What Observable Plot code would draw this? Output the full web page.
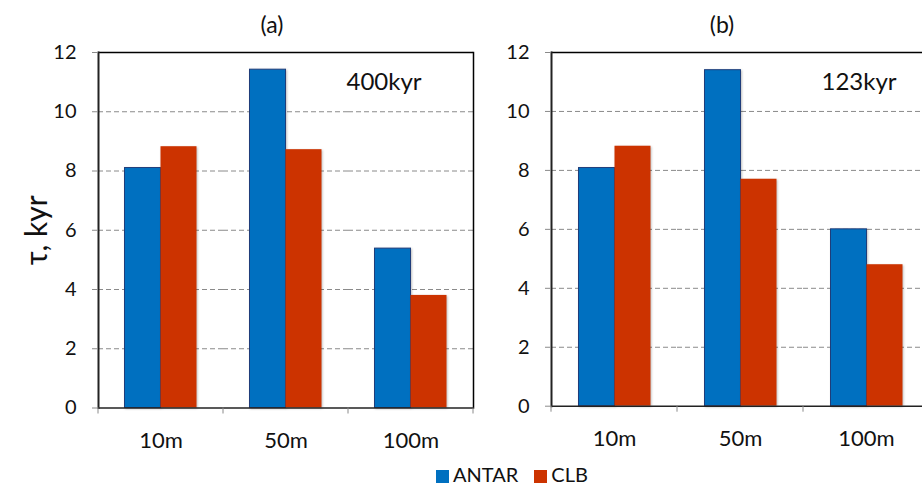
<!DOCTYPE html>
<html><head><meta charset="utf-8">
<script src="https://cdn.jsdelivr.net/npm/d3@7"></script>
<script src="https://cdn.jsdelivr.net/npm/@observablehq/plot@0.6"></script>
<style>
body{margin:0;background:#fff;font-family:Lato,"Open Sans",sans-serif;color:#111;}
#wrap{position:relative;width:922px;height:485px;overflow:hidden;background:#fff;}
.panel{position:absolute;top:0;}
.lbl{position:absolute;transform:translate(-50%,-50%);white-space:nowrap;}
.title{font-size:23px;}
.note{font-size:24px;}
#legend{position:absolute;left:436px;top:463px;display:flex;justify-content:flex-start;gap:16px;font-size:20px;line-height:22px;white-space:nowrap;}
#legend span.sw{display:inline-block;width:13px;height:13px;margin-right:4px;vertical-align:-1px;}
g[aria-label="bar"] rect{filter:drop-shadow(1.5px 1.5px 1px rgba(0,0,0,0.25));}
</style>
</head><body>
<div id="wrap"></div>
<script>
const categories = ["10m", "50m", "100m"];
const series = ["ANTAR", "CLB"];
const colors = ["#0070C0", "#CC3300"];
const antarA = [8.1, 11.42, 5.38];
const clbA = [8.82, 8.72, 3.8];
const antarB = [8.08, 11.4, 6.0];
const clbB = [8.82, 7.7, 4.8];
const yTicks = [0, 2, 4, 6, 8, 10, 12];
const panelTitles = ["(a)", "(b)"];
const notes = ["400kyr", "123kyr"];
const yLabel = "τ, kyr";

const wrap = document.getElementById("wrap");

function makePanel(antar, clb, cfg) {
  const rows = categories.flatMap((c, i) => [
    {cat: c, series: series[0], v: antar[i]},
    {cat: c, series: series[1], v: clb[i]}
  ]);
  const marks = [
    Plot.gridY(yTicks.slice(1, -1), {stroke: "#8a8a8a", strokeOpacity: 1, strokeDasharray: "5,3", strokeWidth: 1}),
    Plot.barY(rows.filter(d => d.series === series[0]), {fx: "cat", x: "series", y: "v", fill: "series", stroke: "#1F3D7A", strokeWidth: 1}),
    Plot.barY(rows.filter(d => d.series === series[1]), {fx: "cat", x: "series", y: "v", fill: "series"}),
    Plot.ruleY([0], {stroke: "#222", strokeWidth: 1.5}),
    Plot.ruleY([12], {stroke: "#000", strokeWidth: 1.5}),
    Plot.frame({anchor: "left", facetAnchor: "left", stroke: "#222", strokeWidth: 2}),
    Plot.axisY(yTicks, {tickSize: 6, tickPadding: 16, stroke: "#8a8a8a", fill: "#111", fontSize: 20, label: null}),
    Plot.axisFx({anchor: "bottom", tickSize: 0, tickPadding: 24, label: null, fill: "#111", fontSize: 22})
  ];
  if (cfg.rightFrame) marks.push(Plot.frame({anchor: "right", facetAnchor: "right", stroke: "#000", strokeWidth: 1.5}));
  if (cfg.yLabel) marks.push(Plot.axisY({ticks: [], tickSize: 0, label: cfg.yLabel, labelAnchor: "center", labelArrow: "none", labelOffset: 73, fontSize: 30, fill: "#111"}));
  const plot = Plot.plot({
    width: cfg.width, height: 460,
    marginLeft: cfg.marginLeft, marginRight: cfg.marginRight,
    marginTop: 52, marginBottom: cfg.marginBottom,
    style: {fontFamily: "Lato, 'Open Sans', sans-serif", fontSize: "20px", background: "transparent", overflow: "visible"},
    fx: {domain: categories, padding: 0, label: null},
    x: {domain: series, paddingInner: 0, paddingOuter: 0.72, axis: null},
    y: {domain: [0, 12], axis: null},
    color: {domain: series, range: colors},
    marks
  });
  // boundary ticks under the category axis, from the fx and y scales
  const fx = plot.scale("fx"), y = plot.scale("y");
  const edges = categories.map(c => fx.apply(c));
  edges.push(edges[edges.length - 1] + fx.bandwidth);
  const y0 = y.apply(0);
  d3.select(plot).append("g").selectAll("line").data(edges).join("line")
    .attr("x1", d => d).attr("x2", d => d).attr("y1", y0).attr("y2", y0 + 6)
    .attr("stroke", "#8a8a8a").attr("stroke-width", 1);
  plot.classList.add("panel");
  plot.style.left = cfg.left + "px";
  wrap.appendChild(plot);
}

makePanel(antarA, clbA, {left: 0, width: 480, marginLeft: 97.5, marginRight: 7.5, marginBottom: 52.5, rightFrame: true, yLabel: yLabel});
makePanel(antarB, clbB, {left: 460, width: 470, marginLeft: 90.5, marginRight: 1.5, marginBottom: 54.3, rightFrame: false, yLabel: null});

function addLabel(text, x, y, cls) {
  const d = document.createElement("div");
  d.className = "lbl " + cls;
  d.textContent = text;
  d.style.left = x + "px";
  d.style.top = y + "px";
  wrap.appendChild(d);
}
addLabel(panelTitles[0], 272, 24, "title");
addLabel(panelTitles[1], 722, 24, "title");
addLabel(notes[0], 384, 80, "note");
addLabel(notes[1], 859, 80, "note");

const legend = document.createElement("div");
legend.id = "legend";
series.forEach((s, i) => {
  const it = document.createElement("div");
  it.innerHTML = `<span class="sw" style="background:${colors[i]}"></span>${s}`;
  legend.appendChild(it);
});
wrap.appendChild(legend);
</script>
</body></html>
